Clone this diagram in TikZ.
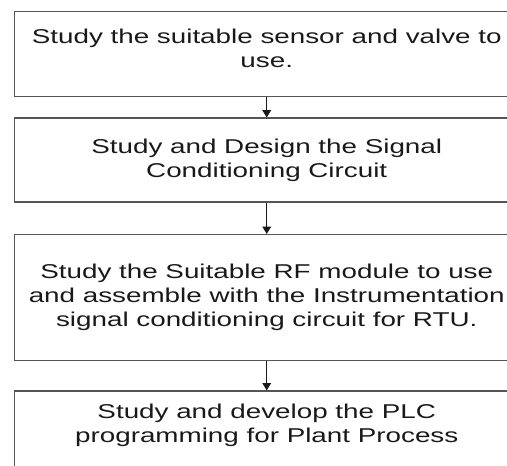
\documentclass[tikz,border=0pt]{standalone}
\usepackage{fontspec}
\setmainfont{Liberation Sans}[FakeStretch=1.39]
\usetikzlibrary{arrows.meta,positioning}
\definecolor{boxline}{RGB}{85,85,85}
\tikzset{
  stepbox/.style={draw=boxline,line width=1.1pt,minimum width=378pt,align=center,
    inner sep=0pt,text=black!90,font=\fontsize{15pt}{18pt}\selectfont},
  flow/.style={-{Triangle[length=5.5pt,width=6.5pt]},line width=0.9pt,black!90}
}
\begin{document}
\begin{tikzpicture}[x=0.75pt,y=-0.75pt]
  \useasboundingbox (0,0) rectangle (507,466);
  \clip (0,0) rectangle (507,466);
  % steps of the work
  \node[stepbox,anchor=north west,minimum height=63.75pt,text depth=9pt] (s1) at (14,11)
    {Study the suitable sensor and valve to\\use.};
  \node[stepbox,below=15pt of s1,minimum height=63pt] (s2)
    {Study and Design the Signal\\Conditioning Circuit};
  \node[stepbox,below=23.25pt of s2,minimum height=94.5pt] (s3)
    {Study the Suitable RF module to use\\and assemble with the Instrumentation\\signal conditioning circuit for RTU.};
  \node[stepbox,below=21.75pt of s3,minimum height=94.5pt,text depth=46.5pt] (s4)
    {Study and develop the PLC\\programming for Plant Process};
  % arrows
  \draw[flow] (s1) -- (s2);
  \draw[flow] (s2) -- (s3);
  \draw[flow] (s3) -- (s4);
\end{tikzpicture}
\end{document}
